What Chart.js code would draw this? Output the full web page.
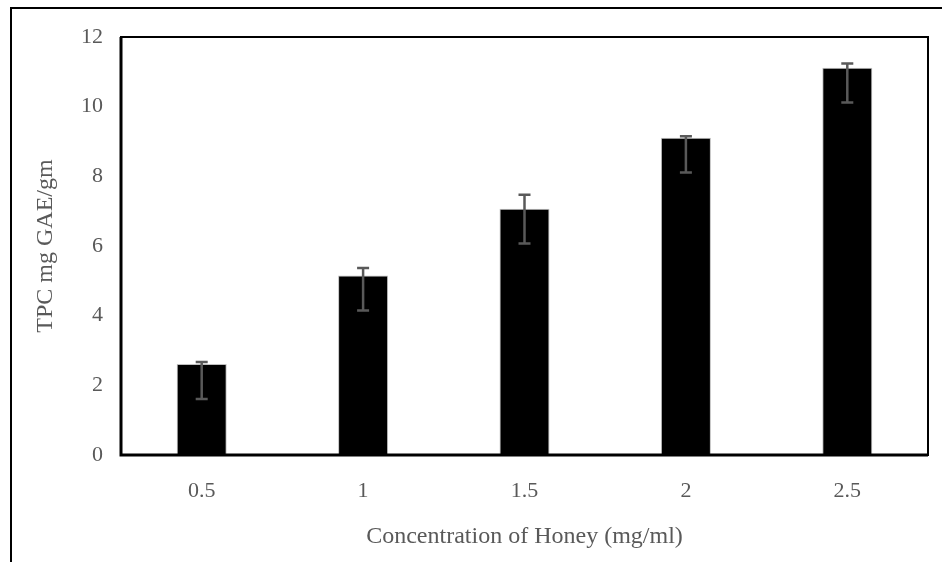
<!DOCTYPE html>
<html>
<head>
<meta charset="utf-8">
<script src="https://cdn.jsdelivr.net/npm/chart.js@4.4.1/dist/chart.umd.min.js"></script>
<style>
  html, body { margin: 0; padding: 0; background: #fff; }
  #wrap { width: 942px; height: 562px; position: relative; }
</style>
</head>
<body>
<div id="wrap"><canvas id="c" width="942" height="562"></canvas></div>
<script>
// ---- data ----
const categories = ['0.5', '1', '1.5', '2', '2.5'];
const tpcValues = [2.61, 5.15, 7.07, 9.11, 11.12];
const errorPlus = [0.06, 0.22, 0.40, 0.04, 0.12];
const errorMinus = [1.0, 1.0, 1.0, 1.0, 1.0];
const yTicks = [0, 2, 4, 6, 8, 10, 12];
const xTitle = 'Concentration of Honey (mg/ml)';
const yTitle = 'TPC mg GAE/gm';

const textColor = '#595959';
const fontFamily = '"Liberation Serif", "Times New Roman", serif';

const framePlugin = {
  id: 'frame',
  beforeDraw(chart) {
    const ctx = chart.ctx;
    ctx.save();
    ctx.fillStyle = '#fff';
    ctx.fillRect(0, 0, chart.width, chart.height);
    ctx.strokeStyle = '#000';
    ctx.lineWidth = 2;
    ctx.beginPath();
    ctx.moveTo(11, chart.height);
    ctx.lineTo(11, 8);
    ctx.lineTo(chart.width, 8);
    ctx.stroke();
    ctx.restore();
  },
  afterDatasetsDraw(chart) {
    const ctx = chart.ctx;
    const a = chart.chartArea;
    ctx.save();
    ctx.strokeStyle = '#000';
    ctx.lineWidth = 2;
    ctx.strokeRect(a.left, a.top, a.right - a.left, a.bottom - a.top);
    ctx.lineWidth = 3;
    ctx.beginPath();
    ctx.moveTo(a.left, a.top);
    ctx.lineTo(a.left, a.bottom);
    ctx.lineTo(a.right, a.bottom);
    ctx.stroke();
    ctx.restore();
  }
};

const errorBarPlugin = {
  id: 'errorBars',
  afterDatasetsDraw(chart) {
    const ctx = chart.ctx;
    const y = chart.scales.y;
    const meta = chart.getDatasetMeta(0);
    ctx.save();
    ctx.strokeStyle = '#595959';
    ctx.lineWidth = 2.5;
    meta.data.forEach((bar, i) => {
      const v = tpcValues[i];
      const yt = y.getPixelForValue(v + errorPlus[i]);
      const yb = y.getPixelForValue(v - errorMinus[i]);
      const x = bar.x;
      ctx.beginPath();
      ctx.moveTo(x, yt); ctx.lineTo(x, yb);
      ctx.moveTo(x - 6, yt); ctx.lineTo(x + 6, yt);
      ctx.moveTo(x - 6, yb); ctx.lineTo(x + 6, yb);
      ctx.stroke();
    });
    ctx.restore();
  }
};

new Chart(document.getElementById('c'), {
  type: 'bar',
  data: {
    labels: categories,
    datasets: [{
      data: tpcValues,
      backgroundColor: '#000',
      borderColor: '#bfbfbf',
      borderWidth: 1,
      borderSkipped: 'start',
      barPercentage: 0.31,
      categoryPercentage: 1.0
    }]
  },
  options: {
    responsive: false,
    animation: false,
    devicePixelRatio: 1,
    layout: { padding: { left: 27, top: 37, right: 14, bottom: 7 } },
    plugins: { legend: { display: false }, tooltip: { enabled: false } },
    scales: {
      x: {
        grid: { display: false, drawTicks: false },
        border: { display: false },
        ticks: { color: textColor, font: { family: fontFamily, size: 22 }, padding: 23 },
        title: { display: true, text: xTitle, color: textColor, font: { family: fontFamily, size: 24 }, padding: { top: 4, bottom: 4 } },
        afterFit(s) { s.height = 100; }
      },
      y: {
        min: 0, max: 12,
        afterBuildTicks(s) { s.ticks = yTicks.map(v => ({ value: v })); },
        grid: { display: false, drawTicks: false },
        border: { display: false },
        ticks: { color: textColor, font: { family: fontFamily, size: 22 }, padding: 18 },
        title: { display: true, text: yTitle, color: textColor, font: { family: fontFamily, size: 24 }, padding: { top: 4, bottom: 4 } },
        afterFit(s) { s.width = 94; }
      }
    }
  },
  plugins: [framePlugin, errorBarPlugin]
});
</script>
</body>
</html>
